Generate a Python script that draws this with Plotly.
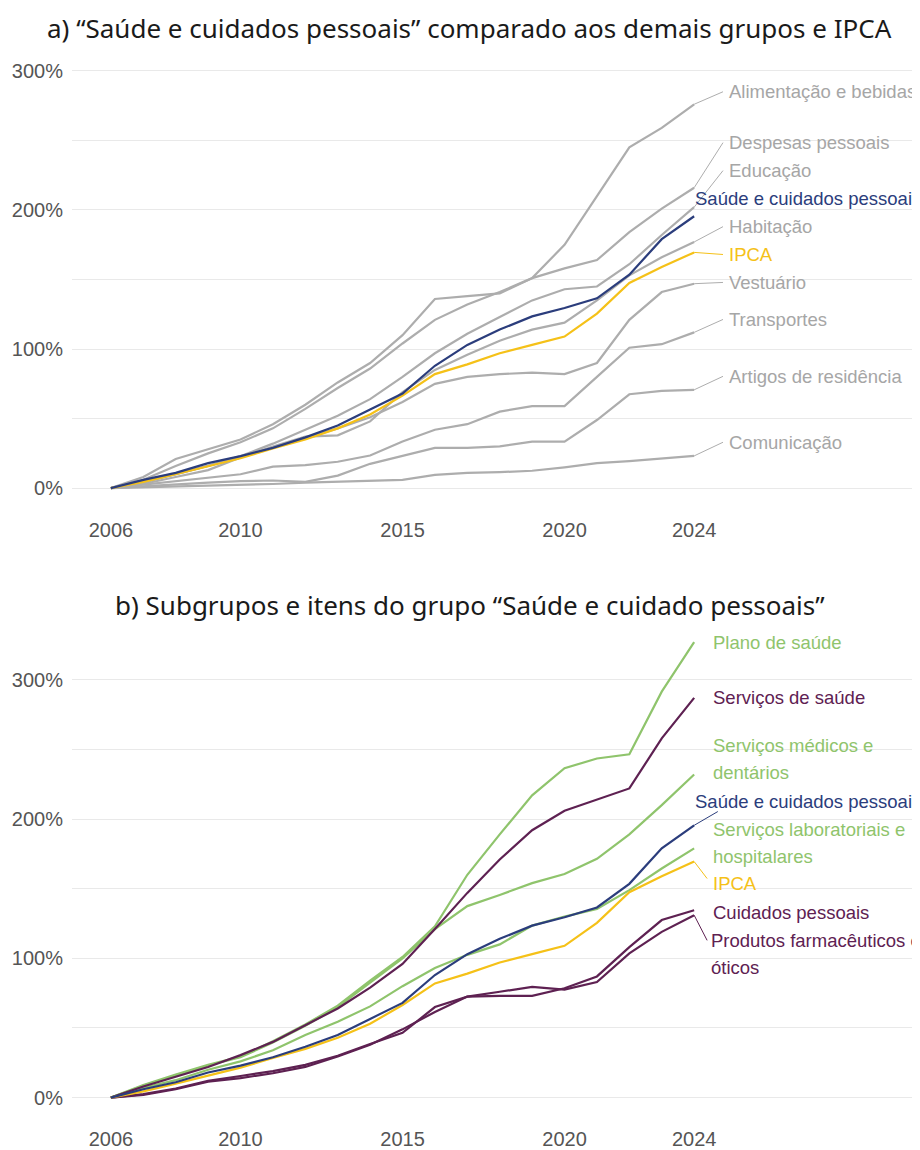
import plotly.graph_objects as go

# ---------------- data ----------------
years = list(range(2006, 2025))

# Panel a) groups (cumulative variation, %)
alimentacao = [0, 8, 21, 28, 35, 46, 60, 76, 90, 110, 136, 138, 140, 151, 175, 210, 245, 259, 276]
despesas = [0, 6, 16, 25, 33, 43, 57, 72, 86, 104, 121, 132, 141, 151, 158, 164, 184, 201, 216]
educacao = [0, 5, 10, 16, 23, 32, 42, 52, 64, 80, 97, 111, 123, 135, 143, 145, 161, 182, 202]
habitacao = [0, 3, 8, 13, 22, 30, 37, 38, 48, 69, 85, 96, 106, 114, 119, 135, 153, 166, 177]
vestuario = [0, 4, 10, 16, 22, 29, 36, 43, 51, 62, 75, 80, 82, 83, 82, 90, 121, 141, 147]
transportes = [0, 2.5, 5, 7.5, 10, 15.5, 16.5, 19, 23.5, 33.5, 42, 46, 55, 59, 59, 80, 101, 103.5, 112]
artigos = [0, 1.5, 3, 4, 5, 5.5, 4.5, 9, 17.5, 23, 29, 29, 30, 33.5, 33.5, 49, 67.5, 70, 70.7]
comunicacao = [0, 0.5, 1, 1.5, 2, 3, 4, 4.5, 5, 6, 9.5, 11, 11.5, 12.5, 15, 18, 19.5, 21.5, 23.2]
saude = [0, 6, 11, 18, 23, 29, 36.5, 45, 56.5, 68, 88, 103, 114, 123.5, 129.5, 136.5, 153.5, 179, 195.5]
ipca = [0, 4.5, 10, 16, 21.5, 28.5, 35, 43, 53, 66.5, 82, 89, 97, 103, 109, 125.5, 147.5, 159, 169.5]

# Panel b) subgroups / items
plano = [0, 9, 16.5, 23.5, 29.5, 40.5, 52.5, 66, 84, 101, 123, 160, 189, 217, 236.5, 243.5, 246.5, 291.5, 327]
serv_saude = [0, 8, 15, 22, 30.5, 40, 52, 64, 79, 96, 121, 147, 171, 192, 206, 214, 222, 258, 287]
serv_medicos = [0, 8.5, 16, 23, 29, 39.5, 51.5, 65, 82.5, 100, 121, 137.5, 145.5, 154, 160.5, 171.5, 189, 210, 232]
serv_lab = [0, 7, 12.5, 20, 26, 34, 45, 54.5, 65.5, 80, 93, 102.5, 110, 123.5, 130, 135.5, 149, 164.5, 179]
cuidados = [0, 2.5, 6.5, 12, 15.5, 19, 23.5, 30, 38.5, 46.5, 65, 72.5, 73, 73, 78.5, 87, 108, 127.5, 134.5]
produtos = [0, 2, 6, 11.5, 14, 17.5, 22, 29.5, 38, 49, 61.5, 72.5, 76, 79.5, 77.5, 83, 103.5, 119, 131]

x_ticks = [2006, 2010, 2015, 2020, 2024]
y_ticks = [0, 100, 200, 300]
y_tick_text = ["0%", "100%", "200%", "300%"]

title_a = "a) “Saúde e cuidados pessoais” comparado aos demais grupos e IPCA"
title_b = "b) Subgrupos e itens do grupo “Saúde e cuidado pessoais”"

# ---------------- styles ----------------
GRAY = "#adadad"
GRAY_TXT = "#a6a6a6"
BLUE = "#2b3d7c"
YELLOW = "#f5c118"
GREEN = "#8fc46c"
PURPLE = "#5e2152"
LBL_FONT = "Liberation Sans"
LBL_SIZE = 18.5

# page offset (default body margin of the html page)
OFF = 8
W, H = 920 - OFF, 1150 - OFF

fig = go.Figure()

def add_line(y, color, xa, ya, width=2.2):
    fig.add_trace(go.Scatter(x=years, y=y, mode="lines", line=dict(color=color, width=width),
                             xaxis=xa, yaxis=ya, showlegend=False, hoverinfo="skip"))

def add_leader(y_end, lx, ly, color, xa, ya):
    fig.add_trace(go.Scatter(x=[years[-1], lx], y=[y_end, ly], mode="lines",
                             line=dict(color=color, width=1), xaxis=xa, yaxis=ya,
                             showlegend=False, hoverinfo="skip"))

def add_label(text_lines, x, y_first, color, xr, yr, step=0):
    for i, t in enumerate(text_lines):
        fig.add_annotation(x=x, y=y_first - i * step, xref=xr, yref=yr, text=t, showarrow=False,
                           xanchor="left", yanchor="middle",
                           font=dict(family=LBL_FONT, size=LBL_SIZE, color=color))

# ---------- panel a ----------
grays_a = [
    (alimentacao, "Alimentação e bebidas", 285),
    (despesas, "Despesas pessoais", 248.4),
    (educacao, "Educação", 228.3),
    (habitacao, "Habitação", 188),
    (vestuario, "Vestuário", 147.9),
    (transportes, "Transportes", 121.3),
    (artigos, "Artigos de residência", 80.4),
    (comunicacao, "Comunicação", 33),
]
LEAD_X = 2024.89
TXT_X = 2025.0
for ser, name, ly in grays_a:
    add_line(ser, GRAY, "x", "y")
for ser, name, ly in grays_a:
    add_leader(ser[-1], LEAD_X, ly, GRAY, "x", "y")
    add_label([name], TXT_X, ly, GRAY_TXT, "x", "y")
add_line(ipca, YELLOW, "x", "y")
add_leader(ipca[-1], LEAD_X, 168, YELLOW, "x", "y")
add_label(["IPCA"], TXT_X, 168, YELLOW, "x", "y")
add_line(saude, BLUE, "x", "y")
add_label(["Saúde e cuidados pessoais"], 2023.95, 208.2, BLUE, "x", "y")

# ---------- panel b ----------
TXT_X2 = 2024.52
LINE_STEP = 19.4
add_line(serv_lab, GREEN, "x2", "y2")
add_line(serv_medicos, GREEN, "x2", "y2")
add_line(plano, GREEN, "x2", "y2")
add_line(produtos, PURPLE, "x2", "y2")
add_line(cuidados, PURPLE, "x2", "y2")
add_line(serv_saude, PURPLE, "x2", "y2")
add_line(ipca, YELLOW, "x2", "y2")
add_line(saude, BLUE, "x2", "y2")

add_label(["Plano de saúde"], TXT_X2, 326.5, GREEN, "x2", "y2")
add_label(["Serviços de saúde"], TXT_X2, 287.1, PURPLE, "x2", "y2")
add_label(["Serviços médicos e", "dentários"], TXT_X2, 252.7, GREEN, "x2", "y2", LINE_STEP)
add_leader(saude[-1], 2024.73, 205.4, BLUE, "x2", "y2")
add_label(["Saúde e cuidados pessoais"], 2023.95, 212.5, BLUE, "x2", "y2")
add_label(["Serviços laboratoriais e", "hospitalares"], TXT_X2, 192.5, GREEN, "x2", "y2", LINE_STEP)
add_leader(ipca[-1], 2024.4, 157.3, YELLOW, "x2", "y2")
add_label(["IPCA"], TXT_X2, 153.8, YELLOW, "x2", "y2")
add_label(["Cuidados pessoais"], TXT_X2, 133, PURPLE, "x2", "y2")
add_leader(produtos[-1], 2024.4, 112.9, PURPLE, "x2", "y2")
add_label(["Produtos farmacêuticos e", "óticos"], TXT_X2 - 0.05, 112.9, PURPLE, "x2", "y2", LINE_STEP)

# ---------- titles ----------
for t, ypx in [(title_a, 28), (title_b, 606)]:
    fig.add_annotation(x=(470 - OFF) / W, y=1 - (ypx - OFF) / H, xref="paper", yref="paper", text=t,
                       showarrow=False, xanchor="center", yanchor="middle",
                       font=dict(family="Noto Sans", size=26, color="#1a1a1a"))

# ---------- axes ----------
XR = [2004.8, 2030.97]
xcommon = dict(range=XR, tickvals=x_ticks, showgrid=False, zeroline=False, showline=False,
               ticks="", tickfont=dict(family="Liberation Sans", size=20, color="#555555"),
               fixedrange=True)
ycommon = dict(tickvals=y_ticks, ticktext=y_tick_text, showgrid=True, gridcolor="#e9e9e9",
               gridwidth=1.3, zeroline=False, showline=False, ticks="",
               tickfont=dict(family="Liberation Sans", size=20, color="#555555"),
               minor=dict(dtick=50, tick0=0, showgrid=True, gridcolor="#e9e9e9", gridwidth=1.3),
               ticklabelstandoff=8, fixedrange=True)

# page pixels: top 0% at 489, 300% at 71 ; bottom 0% at 1099.5, 300% at 681
s_a = (489 - 71) / 300.0
ra = [-20, 310]
top_a = 489 - ra[1] * s_a
bot_a = 489 - ra[0] * s_a
s_b = (1099.5 - 681) / 300.0
rb = [-20, 340]
top_b = 1099.5 - rb[1] * s_b
bot_b = 1099.5 - rb[0] * s_b

def pdom(top_px, bot_px):
    return [1 - (bot_px - OFF) / H, 1 - (top_px - OFF) / H]

fig.update_layout(
    width=W, height=H,
    margin=dict(l=0, r=0, t=0, b=0),
    paper_bgcolor="white", plot_bgcolor="white",
    xaxis=dict(domain=[(72 - OFF) / W, 1], anchor="y", **xcommon),
    yaxis=dict(domain=pdom(top_a, bot_a), range=ra, anchor="x", **ycommon),
    xaxis2=dict(domain=[(72 - OFF) / W, 1], anchor="y2", **xcommon),
    yaxis2=dict(domain=pdom(top_b, bot_b), range=rb, anchor="x2", **ycommon),
)

fig.write_html("out.html")
